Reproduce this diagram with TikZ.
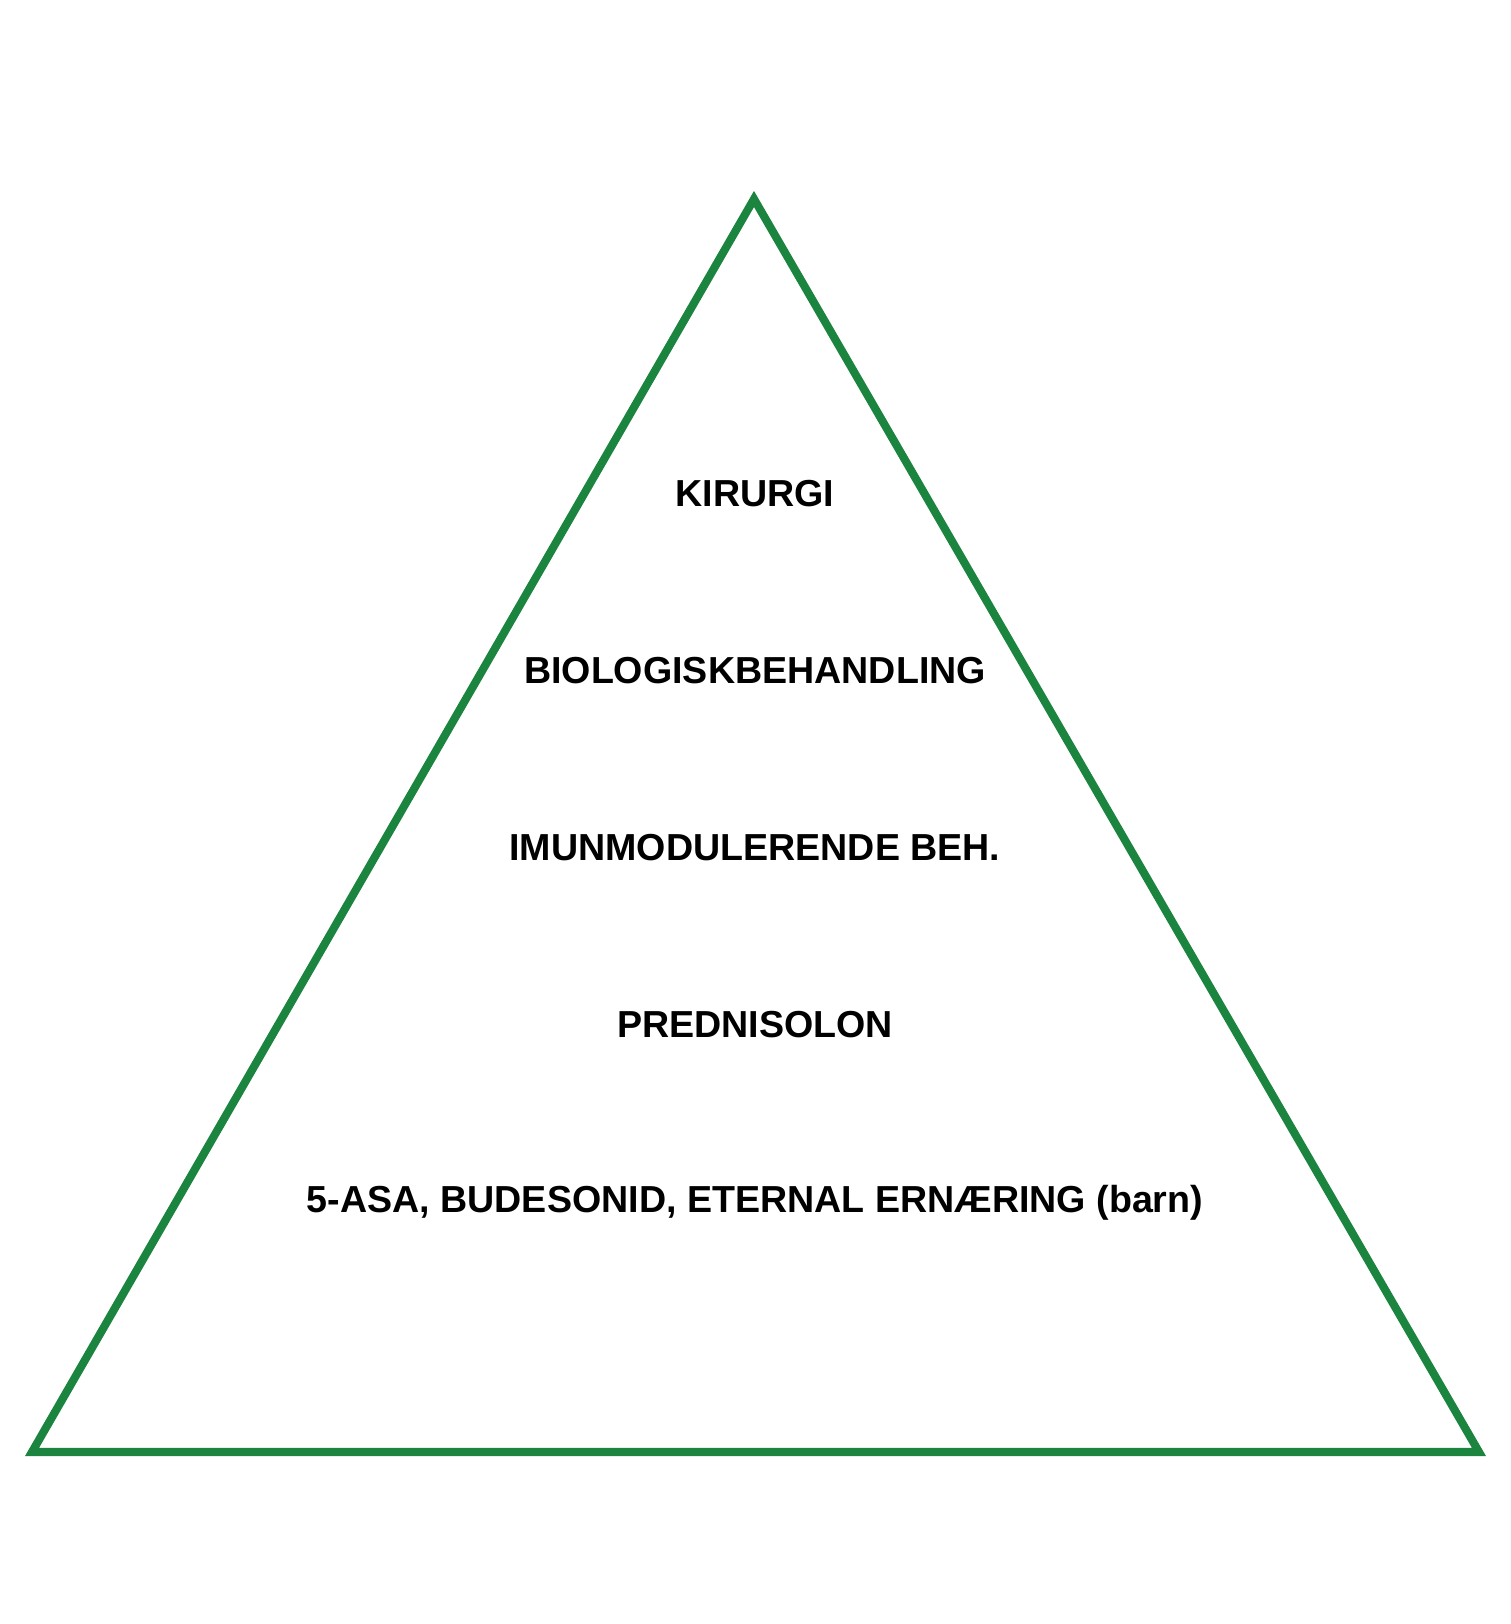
\documentclass[tikz,border=0pt]{standalone}
\usepackage{fontspec}
\setmainfont{Liberation Sans}
\usepackage{xcolor}
\usepackage{tikz}
\usetikzlibrary{positioning}
\definecolor{pyrgreen}{HTML}{1B843F}

\begin{document}
\begin{tikzpicture}[
          every node/.style={font=\fontsize{10.7}{12}\selectfont\bfseries},
          edge/.style={draw=pyrgreen,line width=2.3pt},
          level/.style={align=center,inner sep=2pt},
      ]
        \useasboundingbox (0,0) rectangle (15.11,16.24);

        \coordinate (top) at (7.54,14.25);
        \coordinate (bl) at (0.32,1.72);
        \coordinate (br) at (14.79,1.72);
        \draw[edge] (top) -- (br) -- (bl) -- cycle;

        \node[level] (kir) at (7.55,11.30) {KIRURGI};
        \node[level] (bio) at (7.55,9.53) {BIOLOGISKBEHANDLING};
        \node[level] (imun) at (7.55,7.76) {IMUNMODULERENDE BEH.};
        \node[level] (pred) at (7.55,5.99) {PREDNISOLON};
        \node[level] (asa) at (7.55,4.21) {5-ASA, BUDESONID, ETERNAL ERNÆRING (barn)};
      \end{tikzpicture}
\end{document}
